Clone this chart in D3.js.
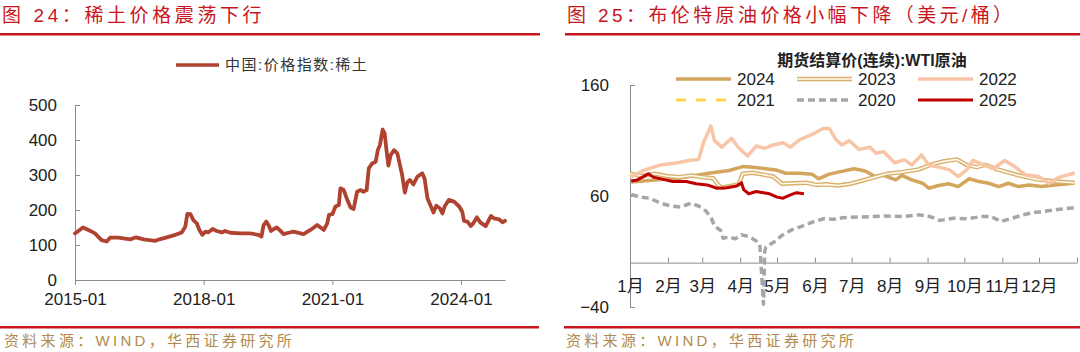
<!DOCTYPE html>
<html lang="zh">
<head>
<meta charset="UTF-8">
<title>稀土价格 / 原油价格</title>
<script src="https://cdn.jsdelivr.net/npm/d3@7"></script>
<style>
  body { margin: 0; background: #fff; }
  svg text { font-family: "Liberation Sans", Arial, "Noto Sans CJK SC", sans-serif; }
</style>
</head>
<body>
<script>
// ---- 图24 数据：中国:价格指数:稀土 ----
var reDates = ["2015-01-01","2015-03-10","2015-05-08","2015-06-20","2015-08-15","2015-09-28","2015-10-28",
  "2016-01-05","2016-04-15","2016-06-05","2016-08-07","2016-11-15","2016-12-28","2017-02-20","2017-05-05",
  "2017-06-28","2017-07-28","2017-08-15","2017-09-10","2017-10-05","2017-11-03","2017-11-25","2017-12-20",
  "2018-01-15","2018-02-10","2018-03-18","2018-04-22","2018-06-05","2018-07-01","2018-08-15","2018-11-10",
  "2019-02-01","2019-04-12","2019-05-08","2019-05-26","2019-06-18","2019-07-10","2019-07-28","2019-08-18",
  "2019-09-15","2019-10-08","2019-11-13","2019-12-25","2020-02-05","2020-04-30","2020-06-28","2020-08-25",
  "2020-10-20","2020-11-18","2020-12-03","2021-01-01","2021-01-27","2021-02-25","2021-03-10","2021-04-08",
  "2021-05-08","2021-06-05","2021-07-01","2021-07-30","2021-08-29","2021-09-20","2021-10-20","2021-11-07",
  "2021-12-05","2022-01-05","2022-01-23","2022-02-10","2022-03-05","2022-03-22","2022-04-05","2022-04-23",
  "2022-05-12","2022-06-10","2022-07-08","2022-07-30","2022-08-18","2022-09-10","2022-10-01","2022-10-23",
  "2022-11-22","2022-12-25","2023-02-05","2023-02-25","2023-03-22","2023-04-15","2023-05-12","2023-06-05",
  "2023-07-05","2023-07-27","2023-08-15","2023-09-20","2023-11-03","2023-12-17","2024-01-12","2024-01-27",
  "2024-02-25","2024-03-25","2024-04-15","2024-05-15","2024-06-15","2024-07-30","2024-09-13","2024-10-08",
  "2024-11-22","2024-12-20","2025-01-10"];
var reValues = [133,150,141,133,114,110,121,
  121,116,122,116,112,117,122,129,
  136,152,189,188,171,162,143,129,
  138,136,146,140,136,140,135,133,
  133,129,124,157,167,155,140,145,
  150,143,131,135,138,131,143,157,
  143,162,186,188,210,214,262,257,
  229,207,203,252,257,252,257,319,
  333,338,371,386,430,419,376,327,
  357,371,362,329,300,250,279,286,
  273,295,305,290,233,214,193,212,
  205,190,210,229,224,210,195,169,
  167,154,162,179,164,154,183,176,
  173,165,169];
var reYTicks = [0, 100, 200, 300, 400, 500];
var reXTicks = ["2015-01", "2018-01", "2021-01", "2024-01"];

// ---- 图25 数据：期货结算价(连续):WTI原油，按月-日 ----
var oil2024 = [["01-02",72.5],["01-12",73.5],["01-28",75],["02-10",76],["02-23",78.5],["03-09",81],["03-23",83],
  ["04-03",86.5],["04-11",86],["04-22",84.5],["04-30",83.5],["05-08",80.5],["05-19",80.5],["05-30",79.5],
  ["06-04",75.5],["06-12",79.5],["06-20",81.5],["07-03",84.5],["07-12",82.5],["07-20",77.5],["07-26",79],
  ["08-06",74.5],["08-11",78.5],["08-19",74.5],["08-28",71.5],["09-02",67],["09-10",69.5],["09-18",71],
  ["09-26",68.5],["10-05",75.5],["10-13",73],["10-21",71.5],["10-29",68.5],["11-06",71.5],["11-14",68.5],
  ["11-23",70],["12-03",68.5],["12-14",70],["12-30",71.5]];
var oil2023 = [["01-01",80],["01-11",78],["01-21",80],["01-31",78],["02-10",77],["02-20",78.5],["03-01",77],
  ["03-10",76],["03-14",70],["03-17",67.5],["03-24",69],["03-31",70.5],["04-03",80],["04-11",81],["04-21",79],
  ["04-28",77.5],["05-05",71],["05-15",71.5],["05-25",72],["06-02",70],["06-10",70.5],["06-20",69.5],
  ["06-30",71],["07-10",74],["07-20",77],["07-30",80],["08-11",81.5],["08-25",84],["09-03",88],["09-13",91],
  ["09-25",93],["10-03",88],["10-11",86],["10-18",88],["10-28",84],["11-13",79],["11-29",75],["12-15",73],
  ["12-30",72]];
var oil2022 = [["01-01",77],["01-12",83],["01-26",88],["02-09",90],["02-18",92],["02-26",93],["03-02",108],
  ["03-08",123],["03-11",110],["03-17",104],["03-25",112],["03-31",103],["04-07",96],["04-14",105],
  ["04-21",103],["04-28",106],["05-06",108],["05-12",104],["05-20",111],["05-29",115],["06-08",121],
  ["06-13",120.5],["06-18",111],["06-23",106],["06-29",110],["07-07",102],["07-16",104],["07-21",98.5],
  ["07-27",100],["08-05",90],["08-13",92.5],["08-19",88],["08-27",97],["09-02",88],["09-10",86],
  ["09-19",83.5],["09-26",77.5],["10-03",83.5],["10-08",92],["10-17",88],["10-25",85],["11-03",92],
  ["11-11",86.5],["11-20",79],["12-01",77.5],["12-09",71.5],["12-18",77],["12-28",80],["12-30",81]];
var oil2021 = [];
var oil2020 = [["01-02",61.5],["01-09",59],["01-17",58],["01-26",53.5],["02-03",51],["02-11",50],["02-20",53.5],
  ["02-26",51],["03-04",46.5],["03-08",41],["03-11",33],["03-16",29],["03-18",22],["03-23",23],["03-28",21.5],
  ["04-02",25],["04-08",23.5],["04-14",19.5],["04-17",16],["04-20",-37.5],["04-21",10],["04-22",14],
  ["04-28",18],["05-05",24.5],["05-13",29.5],["05-22",33],["05-30",36.5],["06-08",39.5],["06-16",39],
  ["06-24",40.5],["07-06",41],["07-17",41.5],["07-28",42],["08-11",41.5],["08-25",43],["09-03",41.5],
  ["09-11",38],["09-22",40],["10-03",39.5],["10-15",41.5],["10-23",41.5],["10-31",37],["11-09",40],
  ["11-18",43],["11-26",45],["12-07",46.5],["12-18",48],["12-30",49.5]];
var oil2025 = [["01-02",73.5],["01-07",74.5],["01-12",77.5],["01-16",80],["01-20",77],["01-28",75],["02-05",73],
  ["02-16",73],["02-24",71],["03-05",70],["03-13",67],["03-21",67.5],["03-29",69],["04-02",72],["04-04",65.5],
  ["04-08",62],["04-14",64],["04-20",63],["04-25",62],["05-01",59],["05-06",58],["05-12",61],["05-17",63],
  ["05-23",62]];
var oilYTicks = [-40, 60, 160];
var monthNames = ["1月","2月","3月","4月","5月","6月","7月","8月","9月","10月","11月","12月"];

var width = 1080, height = 352;
var red = "#c8161e", axisColor = "#8c8c8c";
var svg = d3.select("body").append("svg").attr("width", width).attr("height", height);

// 标题与分隔线
svg.append("text").attr("x", 2).attr("y", 22).attr("fill", red)
  .style("font-size", "19px").style("letter-spacing", "3.6px").text("图 24：稀土价格震荡下行");
svg.append("text").attr("x", 567).attr("y", 22).attr("fill", red)
  .style("font-size", "19px").style("letter-spacing", "3.4px").text("图 25：布伦特原油价格小幅下降（美元/桶）");
svg.append("rect").attr("x", 0).attr("y", 33).attr("width", 540).attr("height", 2.5).attr("fill", red);
svg.append("rect").attr("x", 565).attr("y", 33).attr("width", 515).attr("height", 2.5).attr("fill", red);
svg.append("rect").attr("x", 0).attr("y", 326).attr("width", 539).attr("height", 2.5).attr("fill", red);
svg.append("rect").attr("x", 564).attr("y", 326).attr("width", 516).attr("height", 2.5).attr("fill", red);
[4, 566].forEach(function (x) {
  svg.append("text").attr("x", x).attr("y", 346).attr("fill", "#b08a4e")
    .style("font-size", "15px").style("letter-spacing", "3.3px").text("资料来源：WIND，华西证券研究所");
});

// ---- 左图 ----
var parseDay = d3.timeParse("%Y-%m-%d");
var parseMonth = d3.timeParse("%Y-%m");
var reData = reDates.map(function (d, i) { return {date: parseDay(d), value: reValues[i]}; });

var x = d3.scaleTime().domain([parseDay("2015-01-01"), reData[reData.length - 1].date]).range([75, 505]);
var y = d3.scaleLinear().domain([0, 500]).range([280, 105]);

var gy = svg.append("g").attr("transform", "translate(75,0)")
  .call(d3.axisLeft(y).tickValues(reYTicks).tickSizeInner(-5).tickSizeOuter(0).tickPadding(18));
var gx = svg.append("g").attr("transform", "translate(0,280)")
  .call(d3.axisBottom(x).tickValues(reXTicks.map(parseMonth)).tickSize(5).tickSizeOuter(0).tickPadding(8)
    .tickFormat(d3.timeFormat("%Y-%m")));
[gx, gy].forEach(function (g) {
  g.select(".domain").attr("stroke", axisColor);
  g.selectAll(".tick line").attr("stroke", axisColor);
  g.selectAll(".tick text").attr("fill", "#222").style("font-size", "17px");
});

svg.append("path").datum(reData)
  .attr("fill", "none").attr("stroke", "#b04230").attr("stroke-width", 3.8)
  .attr("stroke-linejoin", "round").attr("stroke-linecap", "round")
  .attr("d", d3.line().x(function (d) { return x(d.date); }).y(function (d) { return y(d.value); }));

// 左图图例
svg.append("line").attr("x1", 176).attr("x2", 219).attr("y1", 65).attr("y2", 65)
  .attr("stroke", "#b04230").attr("stroke-width", 3.5);
svg.append("text").attr("x", 225).attr("y", 70).attr("fill", "#333")
  .style("font-size", "15px").style("letter-spacing", "1.5px").text("中国:价格指数:稀土");

// ---- 右图 ----
var xo = d3.scaleTime().domain([new Date(2001, 0, 1), new Date(2002, 0, 1)]).range([630, 1077]);
var yo = d3.scaleLinear().domain([-40, 160]).range([307, 85]);
var monthTicks = d3.timeMonth.range(new Date(2001, 0, 1), new Date(2002, 0, 2));

var gyo = svg.append("g").attr("transform", "translate(630,0)")
  .call(d3.axisLeft(yo).tickValues(oilYTicks).tickSizeInner(-5).tickSizeOuter(0).tickPadding(21));
var gxo = svg.append("g").attr("transform", "translate(0," + yo(0) + ")")
  .call(d3.axisBottom(xo).tickValues(monthTicks).tickSizeInner(-5).tickSizeOuter(0).tickPadding(17)
    .tickFormat(function (d, i) { return monthNames[i] || ""; }));
[gxo, gyo].forEach(function (g) {
  g.select(".domain").attr("stroke", axisColor);
  g.selectAll(".tick line").attr("stroke", axisColor);
  g.selectAll(".tick text").attr("fill", "#222").style("font-size", "17px");
});

var series = [
  {name: "2024", data: oil2024, color: "#d3a55d", width: 3.5},
  {name: "2023", data: oil2023, color: "#d8b06c", width: 4.5, inner: "#fffaf0"},
  {name: "2022", data: oil2022, color: "#f8c6a6", width: 3.5},
  {name: "2021", data: oil2021, color: "#ffd34f", width: 3, dash: "10,10"},
  {name: "2020", data: oil2020, color: "#a6a6a6", width: 3.5, dash: "7,4"},
  {name: "2025", data: oil2025, color: "#c00000", width: 3}
];
var oilLine = d3.line()
  .x(function (d) { return xo(new Date(2001, +d[0].slice(0, 2) - 1, +d[0].slice(3))); })
  .y(function (d) { return yo(d[1]); });

series.forEach(function (s) {
  if (!s.data.length) return;
  svg.append("path").datum(s.data).attr("fill", "none").attr("stroke", s.color)
    .attr("stroke-width", s.width).attr("stroke-linejoin", "round")
    .attr("stroke-dasharray", s.dash || null).attr("d", oilLine);
  if (s.inner) {
    svg.append("path").datum(s.data).attr("fill", "none").attr("stroke", s.inner)
      .attr("stroke-width", 1.6).attr("stroke-linejoin", "round").attr("d", oilLine);
  }
});

// 右图图例
svg.append("text").attr("x", 872).attr("y", 66).attr("text-anchor", "middle").attr("fill", "#222")
  .style("font-size", "16px").style("font-weight", "bold").text("期货结算价(连续):WTI原油");
var legendX = [676, 797, 918], legendY = [79, 100];
series.forEach(function (s, i) {
  var lx = legendX[i % 3], ly = legendY[Math.floor(i / 3)];
  svg.append("line").attr("x1", lx).attr("x2", lx + 55).attr("y1", ly).attr("y2", ly)
    .attr("stroke", s.color).attr("stroke-width", s.width).attr("stroke-dasharray", s.dash || null);
  if (s.inner) {
    svg.append("line").attr("x1", lx).attr("x2", lx + 55).attr("y1", ly).attr("y2", ly)
      .attr("stroke", s.inner).attr("stroke-width", 1.6);
  }
  svg.append("text").attr("x", lx + 61).attr("y", ly + 6).attr("fill", "#222")
    .style("font-size", "17px").text(s.name);
});
</script>
</body>
</html>
